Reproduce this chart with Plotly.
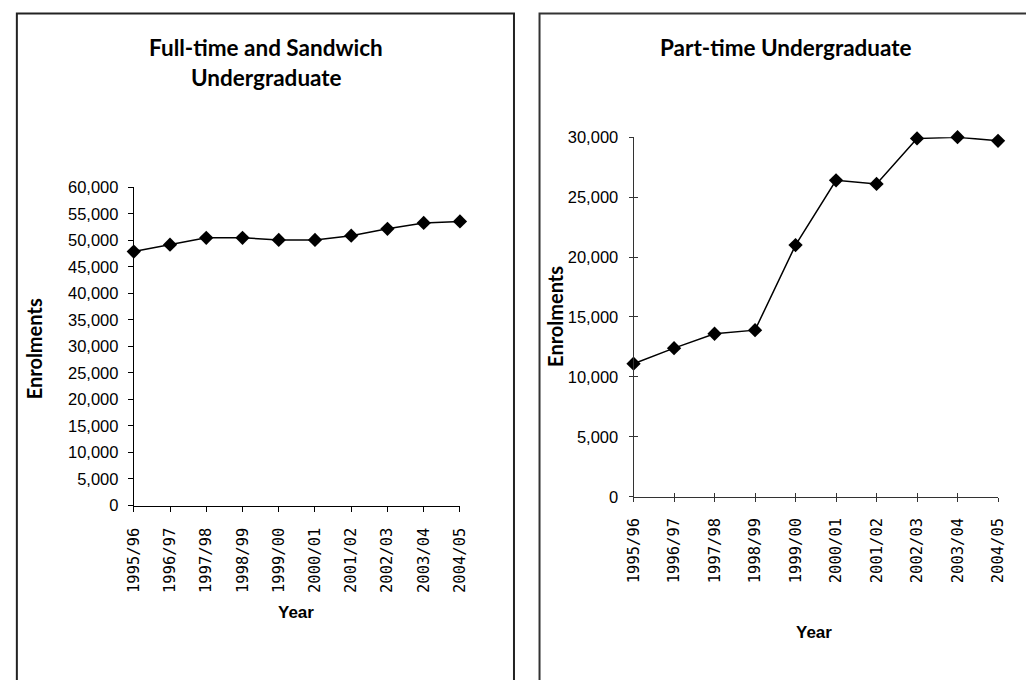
import plotly.graph_objects as go

years = ["1995/96", "1996/97", "1997/98", "1998/99", "1999/00",
         "2000/01", "2001/02", "2002/03", "2003/04", "2004/05"]
fulltime = [47900, 49200, 50500, 50500, 50100, 50100, 50900, 52200, 53300, 53600]
parttime = [11100, 12400, 13600, 13900, 21000, 26400, 26100, 29900, 30000, 29700]

title_left = ["Full-time and Sandwich", "Undergraduate"]
title_right = "Part-time Undergraduate"
y_title = "Enrolments"
x_title = "Year"

W, H = 1026, 680


def px(x):
    return x / W


def py(y):
    return 1 - y / H


TITLE_FONT = dict(family="Lato, Noto Sans, sans-serif", size=22.5, color="black", weight="bold")
AXT_FONT = dict(family="Lato, Noto Sans, sans-serif", size=20, color="black", weight="bold")
YEAR_FONT = dict(family="Liberation Sans, Arial, sans-serif", size=17, color="black", weight="bold")
YTICK_FONT = dict(family="Liberation Sans, Arial, sans-serif", size=16.5, color="black")
XTICK_FONT = dict(family="DejaVu Sans Mono, Liberation Mono, monospace", size=15.5, color="black")

fig = go.Figure()
fig.add_trace(go.Scatter(x=years, y=fulltime, mode="lines+markers",
                         line=dict(color="black", width=1.5),
                         marker=dict(symbol="diamond", size=11, color="black"),
                         cliponaxis=False, showlegend=False, xaxis="x", yaxis="y"))
fig.add_trace(go.Scatter(x=years, y=parttime, mode="lines+markers",
                         line=dict(color="black", width=1.5),
                         marker=dict(symbol="diamond", size=11, color="black"),
                         cliponaxis=False, showlegend=False, xaxis="x2", yaxis="y2"))
# invisible trace to carry the overlaid (inside-tick) axes of the right chart
fig.add_trace(go.Scatter(x=years, y=parttime, mode="lines", line=dict(width=0),
                         opacity=0, hoverinfo="skip", showlegend=False,
                         xaxis="x3", yaxis="y3"))

common_x = dict(type="category", range=[0, 9], showgrid=False, zeroline=False,
                showline=True, tickangle=-90, tickfont=XTICK_FONT)
common_y = dict(showgrid=False, zeroline=False, showline=True, dtick=5000,
                tickformat=",", tickfont=YTICK_FONT)

fig.update_layout(
    width=W, height=H, margin=dict(l=0, r=0, t=0, b=0),
    paper_bgcolor="white", plot_bgcolor="white",
    xaxis=dict(domain=[px(127), px(459)], anchor="y", linecolor="black", linewidth=1,
               ticks="outside", ticklen=5, tickcolor="black", ticklabelstandoff=10, **common_x),
    yaxis=dict(domain=[py(510), py(183.3)], anchor="x", range=[0, 60000], linecolor="black",
               linewidth=1, ticks="outside", ticklen=5, tickcolor="black", ticklabelstandoff=6,
               **common_y),
    xaxis2=dict(domain=[px(635.7), px(1006.7)], anchor="y2", linecolor="#333", linewidth=1,
                ticks="outside", ticklen=4, tickcolor="#333", ticklabelstandoff=10, **common_x),
    yaxis2=dict(domain=[py(501), py(131.7)], anchor="x2", range=[0, 30000], linecolor="#333",
                linewidth=1, ticks="outside", ticklen=4, tickcolor="#333", ticklabelstandoff=7,
                **common_y),
    xaxis3=dict(domain=[px(635.7), px(1006.7)], anchor="y2", overlaying="x2", type="category",
                range=[0, 9], showgrid=False, zeroline=False, showline=False,
                ticks="inside", ticklen=4, tickcolor="#333", showticklabels=False),
    yaxis3=dict(domain=[py(501), py(131.7)], anchor="x2", overlaying="y2", range=[0, 30000],
                dtick=5000, showgrid=False, zeroline=False, showline=False,
                ticks="inside", ticklen=4, tickcolor="#333", showticklabels=False),
)

# panel frames
fig.add_shape(type="rect", xref="paper", yref="paper",
              x0=px(8), x1=px(514), y0=py(4.5), y1=py(700),
              line=dict(color="#222", width=2), layer="below")
fig.add_shape(type="rect", xref="paper", yref="paper",
              x0=px(540), x1=px(1040), y0=py(4.5), y1=py(700),
              line=dict(color="#333", width=2), layer="below")

ann = []
ann.append(dict(text=title_left[0], x=px(262), y=py(40), font=TITLE_FONT))
ann.append(dict(text=title_left[1], x=px(262), y=py(70), font=TITLE_FONT))
ann.append(dict(text=title_right, x=px(791), y=py(40), font=TITLE_FONT))
ann.append(dict(text=y_title, x=px(25), y=py(349), textangle=-90, font=AXT_FONT))
ann.append(dict(text=y_title, x=px(555.5), y=py(315.5), textangle=-90, font=AXT_FONT))
ann.append(dict(text=x_title, x=px(292), y=py(620), font=YEAR_FONT))
ann.append(dict(text=x_title, x=px(819), y=py(640), font=YEAR_FONT))
for a in ann:
    a.update(xref="paper", yref="paper", showarrow=False, xanchor="center", yanchor="middle")
fig.update_layout(annotations=ann)

fig.write_html("out.html", config={"displayModeBar": False},
               post_script="document.body.style.margin='0';document.body.style.padding='0';"
                           "document.body.style.overflow='hidden';")
